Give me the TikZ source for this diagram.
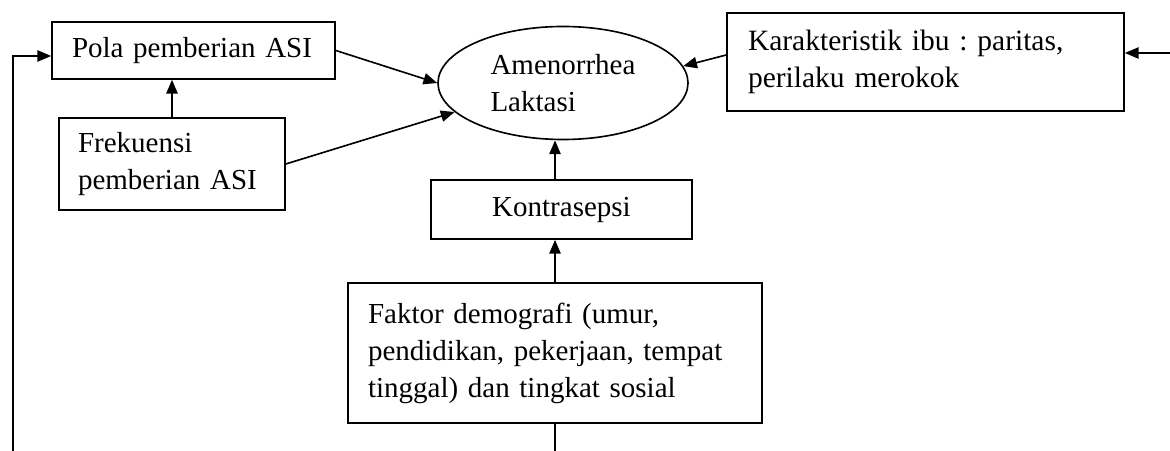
\documentclass[tikz,border=0pt]{standalone}
\usepackage{fontspec}
\setmainfont{Liberation Serif}
\usetikzlibrary{arrows.meta,shapes.geometric}
\frenchspacing

\tikzset{
  box/.style={draw, rectangle, inner sep=0pt, font=\fontsize{11.6}{14.8}\selectfont},
  oval/.style={draw, ellipse, inner sep=0pt, font=\fontsize{11.6}{14.8}\selectfont},
  arr/.style={-{Triangle[length=5.5pt,width=4.5pt]}}
}

\begin{document}
\begin{tikzpicture}[x=0.4pt,y=-0.4pt,line width=0.65pt]
\useasboundingbox (0,0) rectangle (1170,451);

\node[box, minimum width=113.2pt, minimum height=22.8pt, text width=97.2pt, align=left] (pola) at (193.5,50.5) {Pola pemberian ASI};
\node[box, minimum width=90.4pt, minimum height=36.8pt, text width=75.2pt, align=left] (frek) at (172,164) {Frekuensi\\pemberian ASI};
\node[oval, minimum width=100pt, minimum height=45.2pt, align=left] (ell) at (563,83) {\raisebox{-1.2pt}{\parbox{58pt}{Amenorrhea\\Laktasi}}};
\node[box, minimum width=158.8pt, minimum height=39.2pt, text width=142pt, align=left, font=\fontsize{11.8}{14.8}\selectfont] (kar) at (925.5,62) {Karakteristik ibu : paritas,\\perilaku merokok};
\node[box, minimum width=104.4pt, minimum height=23.6pt, align=center] (kon) at (561.5,209.5) {Kontrasepsi};
\node[box, minimum width=165.6pt, minimum height=56pt, text width=149.6pt, align=left] (fak) at (555,353) {Faktor demografi (umur,\\pendidikan, pekerjaan, tempat\\tinggal) dan tingkat sosial};

\coordinate (ltop) at (13,56);
\coordinate (lbot) at (13,451);
\coordinate (rin) at (1170,53);
\coordinate (bot) at (555,451);

% feedback lines
\draw[arr] (lbot) -- (ltop) -- (ltop -| pola.west);
\draw[arr] (rin) -- (rin -| kar.east);
\draw (fak.south) -- (bot);

% arrows into amenorrhea
\draw[arr] (pola.east) -- (ell.west);
\draw[arr] (frek.east) -- (ell.195);
\draw[arr] ([yshift=2.8pt]kar.west) -- (ell.8);
\draw[arr] (kon.north -| fak.north) -- (ell.south -| fak.north);
\draw[arr] (frek.north) -- (frek.north |- pola.south);
\draw[arr] (fak.north) -- (kon.south -| fak.north);
\end{tikzpicture}
\end{document}
